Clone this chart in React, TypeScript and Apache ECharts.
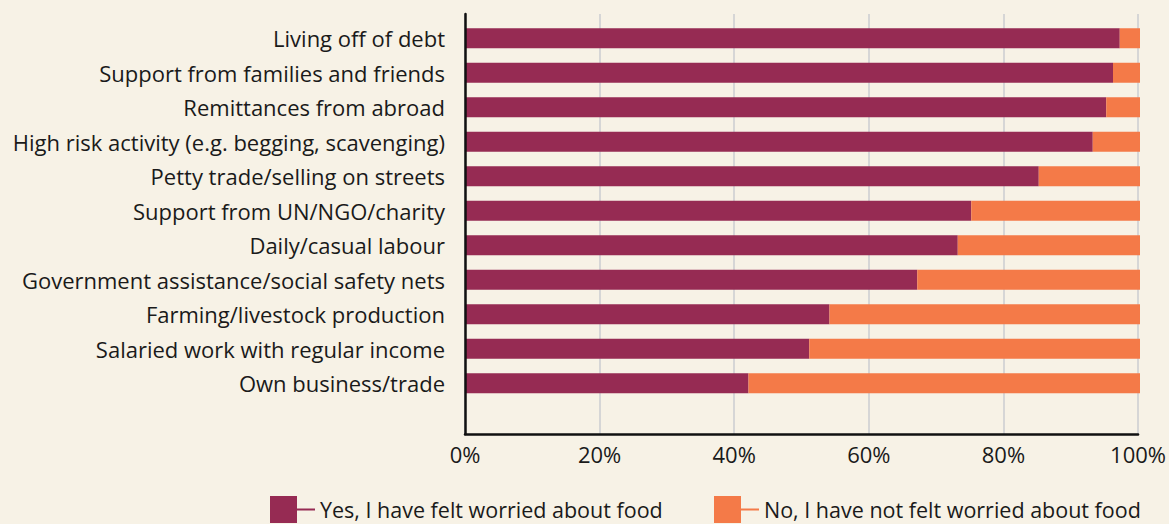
import React, { useEffect, useRef } from "react";
import * as echarts from "echarts";

const categories = [
  "Living off of debt",
  "Support from families and friends",
  "Remittances from abroad",
  "High risk activity (e.g. begging, scavenging)",
  "Petty trade/selling on streets",
  "Support from UN/NGO/charity",
  "Daily/casual labour",
  "Government assistance/social safety nets",
  "Farming/livestock production",
  "Salaried work with regular income",
  "Own business/trade",
];
const yesValues = [97, 96, 95, 93, 85, 75, 73, 67, 54, 51, 42];
const noValues = yesValues.map((v) => 100 - v);
const yesName = "Yes, I have felt worried about food";
const noName = "No, I have not felt worried about food";
const xTicks = [0, 20, 40, 60, 80, 100];

const PURPLE = "#962B53";
const ORANGE = "#F47A48";
const BG = "#F7F2E6";
const FONT = "'Open Sans', sans-serif";
const ICON = "path://M0,0H27V27H0Z M27,12.5H45V14.5H27Z";

export default function App() {
  const ref = useRef<HTMLDivElement>(null);
  useEffect(() => {
    document.body.style.margin = "0";
    document.body.style.background = BG;
    const chart = echarts.init(ref.current!, null, { renderer: "svg" });
    const legendCommon = {
      top: 496,
      padding: 0,
      itemWidth: 45,
      itemHeight: 27,
      itemGap: 0,
      selectedMode: false,
      textStyle: {
        fontFamily: FONT,
        fontSize: 21.5,
        lineHeight: 18,
        color: "#1a1a1a",
      },
    };
    chart.setOption({
      animation: false,
      backgroundColor: BG,
      legend: [
        { ...legendCommon, left: 270, data: [{ name: yesName, icon: ICON }] },
        { ...legendCommon, left: 714, data: [{ name: noName, icon: ICON }] },
      ],
      grid: [
        { left: 465, width: 675, top: 21, height: 379.5 },
        { left: 465, width: 675, top: 14, height: 420 },
      ],
      xAxis: [
        { type: "value", gridIndex: 0, min: 0, max: 100, show: false },
        {
          type: "value",
          gridIndex: 1,
          min: xTicks[0],
          max: xTicks[xTicks.length - 1],
          interval: 20,
          axisLine: { show: true, lineStyle: { color: "#111", width: 2.5 } },
          axisTick: { show: false },
          axisLabel: {
            formatter: "{value}%",
            fontFamily: FONT,
            fontSize: 22,
            color: "#1a1a1a",
            margin: 9,
          },
          splitLine: { show: true, lineStyle: { color: "#D6D6D6", width: 2 } },
        },
      ],
      yAxis: [
        {
          type: "category",
          gridIndex: 0,
          data: categories,
          inverse: true,
          axisLine: { show: false },
          axisTick: { show: false },
          axisLabel: {
            fontFamily: FONT,
            fontSize: 22,
            color: "#1a1a1a",
            margin: 20,
          },
        },
        {
          type: "value",
          gridIndex: 1,
          z: 5,
          axisLine: { show: true, lineStyle: { color: "#111", width: 2.5 } },
          axisTick: { show: false },
          axisLabel: { show: false },
          splitLine: { show: false },
        },
      ],
      series: [
        {
          name: yesName,
          type: "bar",
          stack: "total",
          xAxisIndex: 0,
          yAxisIndex: 0,
          barWidth: 20,
          data: yesValues,
          itemStyle: { color: PURPLE },
        },
        {
          name: noName,
          type: "bar",
          stack: "total",
          xAxisIndex: 0,
          yAxisIndex: 0,
          barWidth: 20,
          data: noValues,
          itemStyle: { color: ORANGE },
        },
      ],
    });
    return () => chart.dispose();
  }, []);
  return <div ref={ref} style={{ width: 1169, height: 524 }} />;
}
